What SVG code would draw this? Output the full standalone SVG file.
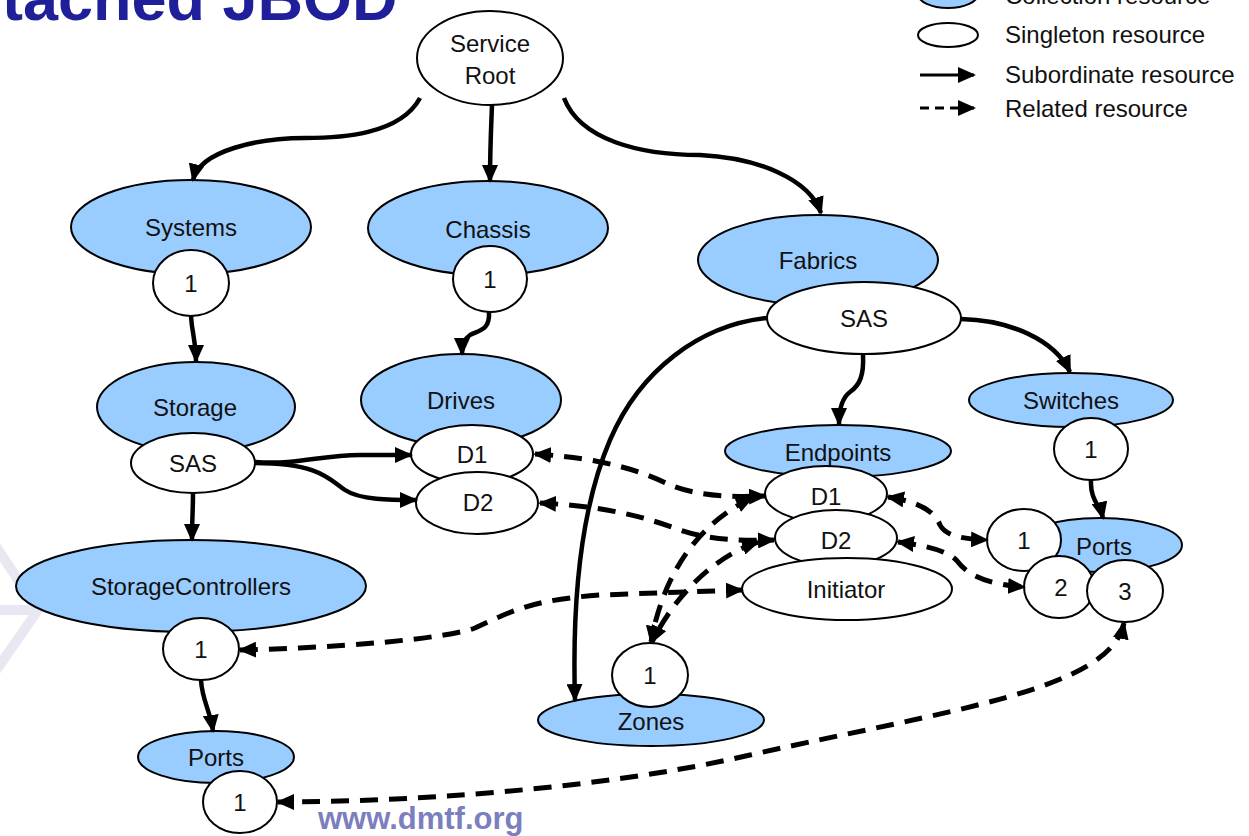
<svg xmlns="http://www.w3.org/2000/svg" width="1249" height="836" viewBox="0 0 1249 836">
<defs>
<style>
.col{fill:#99ccff;stroke:#000;stroke-width:2}
.sng{fill:#fff;stroke:#000;stroke-width:2}
.lbl{font-family:"Liberation Sans",Arial,sans-serif;font-size:24px;fill:#111;text-anchor:middle;dominant-baseline:central}
.leg{font-family:"Liberation Sans",Arial,sans-serif;font-size:24px;fill:#111}
.sub{fill:none;stroke:#000;stroke-width:4.5;marker-end:url(#ah)}
.rel{fill:none;stroke:#000;stroke-width:5;stroke-dasharray:18 11;marker-end:url(#ah);marker-start:url(#ah)}
</style>
<marker id="ah" markerUnits="userSpaceOnUse" markerWidth="18" markerHeight="16" refX="16" refY="8" orient="auto-start-reverse">
<path d="M0,0 L18,8 L0,16 z" fill="#000"/>
</marker>
</defs>
<rect width="1249" height="836" fill="#fff"/>
<g id="watermark" fill="none" stroke="#e8e8f3" stroke-width="10">
<path d="M-5,545 L38,610 L-5,672"/>
<path d="M0,610 L38,610"/>
</g>
<text x="2" y="20" font-family="'Liberation Sans',Arial,sans-serif" font-weight="bold" font-size="63" fill="#1f1f99">tached JBOD</text>
<text x="318" y="829" font-family="'Liberation Sans',Arial,sans-serif" font-weight="bold" font-size="31" fill="#7b7fbd">www.dmtf.org</text>

<g id="legend">
<ellipse class="col" cx="948" cy="-6" rx="30" ry="14"/>
<text class="leg" x="1005" y="4">Collection resource</text>
<ellipse class="sng" cx="948" cy="35" rx="30" ry="12"/>
<text class="leg" x="1005" y="43">Singleton resource</text>
<line x1="920" y1="75" x2="974" y2="75" stroke="#000" stroke-width="3" marker-end="url(#ah)"/>
<text class="leg" x="1005" y="83">Subordinate resource</text>
<line x1="920" y1="108" x2="974" y2="108" stroke="#000" stroke-width="3" stroke-dasharray="9 6" marker-end="url(#ah)"/>
<text class="leg" x="1005" y="117">Related resource</text>
</g>

<g id="service-root"><ellipse class="sng" cx="490" cy="58" rx="73" ry="47"/><text class="lbl" x="490" y="43">Service</text><text class="lbl" x="490" y="75">Root</text></g>

<g id="systems"><ellipse class="col" cx="191" cy="227" rx="120" ry="47"/><text class="lbl" x="191" y="227">Systems</text></g>
<g id="systems-1"><ellipse class="sng" cx="191" cy="283" rx="38" ry="33"/><text class="lbl" x="191" y="283">1</text></g>

<g id="chassis"><ellipse class="col" cx="488" cy="228" rx="120" ry="47"/><text class="lbl" x="488" y="229">Chassis</text></g>
<g id="chassis-1"><ellipse class="sng" cx="490" cy="279" rx="37" ry="33"/><text class="lbl" x="490" y="279">1</text></g>

<g id="fabrics"><ellipse class="col" cx="818" cy="260" rx="120" ry="45"/><text class="lbl" x="818" y="260">Fabrics</text></g>
<g id="fabrics-sas"><ellipse class="sng" cx="864" cy="318" rx="97" ry="36"/><text class="lbl" x="864" y="318">SAS</text></g>

<g id="storage"><ellipse class="col" cx="196" cy="407" rx="99" ry="45"/><text class="lbl" x="195" y="407">Storage</text></g>
<g id="storage-sas"><ellipse class="sng" cx="193" cy="463" rx="62" ry="30"/><text class="lbl" x="193" y="463">SAS</text></g>

<g id="drives"><ellipse class="col" cx="461" cy="400" rx="100" ry="46"/><text class="lbl" x="461" y="400">Drives</text></g>
<g id="drives-d1"><ellipse class="sng" cx="472" cy="454" rx="61" ry="29"/><text class="lbl" x="472" y="454">D1</text></g>
<g id="drives-d2"><ellipse class="sng" cx="477" cy="503" rx="61" ry="31"/><text class="lbl" x="478" y="502">D2</text></g>

<g id="switches"><ellipse class="col" cx="1071" cy="400" rx="102" ry="27"/><text class="lbl" x="1071" y="400">Switches</text></g>
<g id="switches-1"><ellipse class="sng" cx="1091" cy="449" rx="37" ry="31"/><text class="lbl" x="1091" y="449">1</text></g>

<g id="endpoints"><ellipse class="col" cx="838" cy="451" rx="113" ry="26"/><text class="lbl" x="838" y="452">Endpoints</text></g>
<g id="endpoints-d1"><ellipse class="sng" cx="826" cy="494" rx="61" ry="28"/><text class="lbl" x="826" y="496">D1</text></g>
<g id="endpoints-d2"><ellipse class="sng" cx="836" cy="538" rx="61" ry="28"/><text class="lbl" x="836" y="540">D2</text></g>
<g id="initiator"><ellipse class="sng" cx="847" cy="589" rx="105" ry="31"/><text class="lbl" x="846" y="589">Initiator</text></g>

<g id="switch-ports"><ellipse class="col" cx="1100" cy="545" rx="82" ry="27"/><text class="lbl" x="1104" y="546">Ports</text></g>
<g id="switch-port-1"><ellipse class="sng" cx="1024" cy="540" rx="37" ry="31"/><text class="lbl" x="1024" y="540">1</text></g>
<g id="switch-port-2"><ellipse class="sng" cx="1059" cy="587" rx="35" ry="31"/><text class="lbl" x="1061" y="587">2</text></g>
<g id="switch-port-3"><ellipse class="sng" cx="1125" cy="591" rx="38" ry="31"/><text class="lbl" x="1125" y="591">3</text></g>

<g id="storage-controllers"><ellipse class="col" cx="191" cy="586" rx="175" ry="46"/><text class="lbl" x="191" y="586">StorageControllers</text></g>
<g id="storage-controllers-1"><ellipse class="sng" cx="201" cy="649" rx="38" ry="31"/><text class="lbl" x="201" y="649">1</text></g>

<g id="controller-ports"><ellipse class="col" cx="216" cy="757" rx="78" ry="26"/><text class="lbl" x="216" y="757">Ports</text></g>
<g id="controller-port-1"><ellipse class="sng" cx="240" cy="802" rx="37" ry="31"/><text class="lbl" x="240" y="802">1</text></g>

<g id="zones"><ellipse class="col" cx="651" cy="720" rx="113" ry="26"/><text class="lbl" x="651" y="721">Zones</text></g>
<g id="zones-1"><ellipse class="sng" cx="650" cy="675" rx="38" ry="32"/><text class="lbl" x="650" y="675">1</text></g>

<g id="connectors">
<path class="sub" d="M420,98 C400,135 340,138 305,138 C260,138 200,150 193,180"/>
<path class="sub" d="M492,105 C491,130 490,150 490,181"/>
<path class="sub" d="M564,98 C580,140 640,155 700,155 C760,158 810,180 821,213"/>
<path class="sub" d="M191,316 C192,335 196,340 196,361"/>
<path class="sub" d="M489,312 C490,330 480,330 470,335 C464,339 462,345 462,354"/>
<path class="sub" d="M193,493 C193,510 192,520 192,540"/>
<path class="sub" d="M255,462 C300,465 320,455 360,455 L411,455"/>
<path class="sub" d="M255,463 C320,463 330,480 345,490 C360,500 390,500 416,500"/>
<path class="sub" d="M863,355 C864,375 860,385 850,392 C842,398 839,408 839,424"/>
<path class="sub" d="M961,319 C1010,320 1055,340 1070,372"/>
<path class="sub" d="M767,318 C700,325 640,370 610,440 C580,510 572,600 575,700"/>
<path class="sub" d="M1091,480 C1090,500 1100,505 1103,518"/>
<path class="sub" d="M201,680 C202,700 210,710 213,731"/>

<path class="rel" d="M535,454 C600,458 640,470 670,485 C700,497 735,497 765,496"/>
<path class="rel" d="M540,503 C600,506 640,515 680,530 C710,540 740,541 774,540"/>
<path class="rel" d="M240,650 C330,648 440,640 475,628 C510,612 530,600 600,595 L742,590"/>
<path class="rel" d="M752,498 C705,520 665,565 651,642"/>
<path class="rel" d="M758,542 C715,556 675,595 652,642"/>
<path class="rel" d="M888,497 C920,502 935,512 940,525 C945,535 960,539 987,540"/>
<path class="rel" d="M898,542 C930,546 950,552 958,562 C970,578 995,585 1024,587"/>
<path class="rel" d="M1124,623 C1110,690 950,710 750,755 C600,790 400,802 278,802"/>
</g>
</svg>
